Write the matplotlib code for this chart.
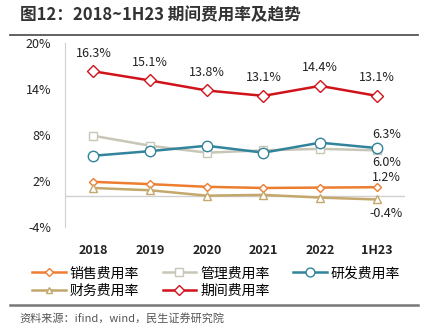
import matplotlib
matplotlib.use("Agg")
import matplotlib.pyplot as plt
from matplotlib.lines import Line2D

plt.rcParams['font.family'] = ['Noto Sans CJK SC', 'DejaVu Sans']

years = ["2018", "2019", "2020", "2021", "2022", "1H23"]
sales = [1.9, 1.6, 1.25, 1.1, 1.15, 1.2]
admin = [7.9, 6.6, 5.7, 6.0, 6.2, 6.0]
rnd = [5.3, 5.9, 6.6, 5.7, 7.0, 6.3]
finance = [1.1, 0.8, 0.1, 0.2, -0.15, -0.4]
period = [16.3, 15.1, 13.8, 13.1, 14.4, 13.1]
yticks = [-4, 2, 8, 14, 20]

names = ["销售费用率", "管理费用率", "研发费用率", "财务费用率", "期间费用率"]
series = [sales, admin, rnd, finance, period]
colors = ["#ED7D31", "#C8C6B6", "#31849B", "#C4A76A", "#D0121B"]
markers = ["D", "s", "o", "^", "D"]
msizes = [4.5, 6, 7.5, 5.5, 6]

fig = plt.figure(figsize=(4.31, 3.35), dpi=100)
ax = fig.add_axes([0.151, 0.322, 0.789, 0.55])

x = list(range(len(years)))
for vals, c, m, ms, name in zip(series, colors, markers, msizes, names):
    ax.plot(x, vals, color=c, lw=1.8, marker=m, ms=ms, mfc="white",
            mec=c, mew=1.0, label=name, zorder=3)

# labels on period rate
for i, v in enumerate(period):
    ax.annotate(f"{v:.1f}%", (i, v), xytext=(0, 13), textcoords="offset points",
                ha="center", va="center", fontsize=9, color="#222222")

# last point labels
last = len(years) - 1
ax.annotate(f"{rnd[-1]:.1f}%", (last, rnd[-1]), xytext=(7, 10), textcoords="offset points",
            ha="center", va="center", fontsize=9, color="#222222")
ax.annotate(f"{admin[-1]:.1f}%", (last, admin[-1]), xytext=(7, -9), textcoords="offset points",
            ha="center", va="center", fontsize=9, color="#222222")
ax.annotate(f"{sales[-1]:.1f}%", (last, sales[-1]), xytext=(7, 7), textcoords="offset points",
            ha="center", va="center", fontsize=9, color="#222222")
ax.annotate(f"{finance[-1]:.1f}%", (last, finance[-1]), xytext=(7, -10), textcoords="offset points",
            ha="center", va="center", fontsize=9, color="#222222")

ax.set_xlim(-0.5, 5.5)
ax.set_ylim(-4, 20)
ax.set_yticks(yticks)
ax.set_yticklabels([f"{t}%" for t in yticks], fontsize=9, color="#222222")
ax.set_xticks(x)
ax.set_xticklabels(years, fontsize=9, fontweight="bold", color="#222222")
ax.tick_params(axis="both", length=0)
ax.tick_params(axis="y", pad=10)
ax.tick_params(axis="x", pad=12)
ax.axhline(0, color="#D0D0D0", lw=1, zorder=1)
for s in ["top", "right", "bottom"]:
    ax.spines[s].set_visible(False)
ax.spines["left"].set_color("#D0D0D0")

handles = [Line2D([], [], color=c, lw=1.8, marker=m, ms=ms * 0.85, mfc="white", mec=c, mew=1.0)
           for c, m, ms in zip(colors, markers, msizes)]
# legend fills column-wise; reorder so rows read sales/admin/rnd, finance/period
order = [0, 3, 1, 4, 2]
fig.legend([handles[i] for i in order], [names[i] for i in order],
           loc="upper left", bbox_to_anchor=(0.075, 0.205), ncol=3,
           frameon=False, fontsize=10, handlelength=2.4, handletextpad=0.3,
           columnspacing=1.7, labelspacing=0.25, borderaxespad=0, borderpad=0)

fig.text(0.046, 0.955, "图12：2018~1H23 期间费用率及趋势", fontsize=12,
         fontweight="bold", color="#333333", va="center", ha="left")
fig.add_artist(Line2D([0.023, 0.97], [0.895, 0.895], color="#555555", lw=1.3))
fig.add_artist(Line2D([0.023, 0.97], [0.09, 0.09], color="#777777", lw=1.8))
fig.text(0.046, 0.05, "资料来源：ifind，wind，民生证券研究院", fontsize=8,
         color="#555555", va="center", ha="left")

fig.savefig("out.png", dpi=100)
